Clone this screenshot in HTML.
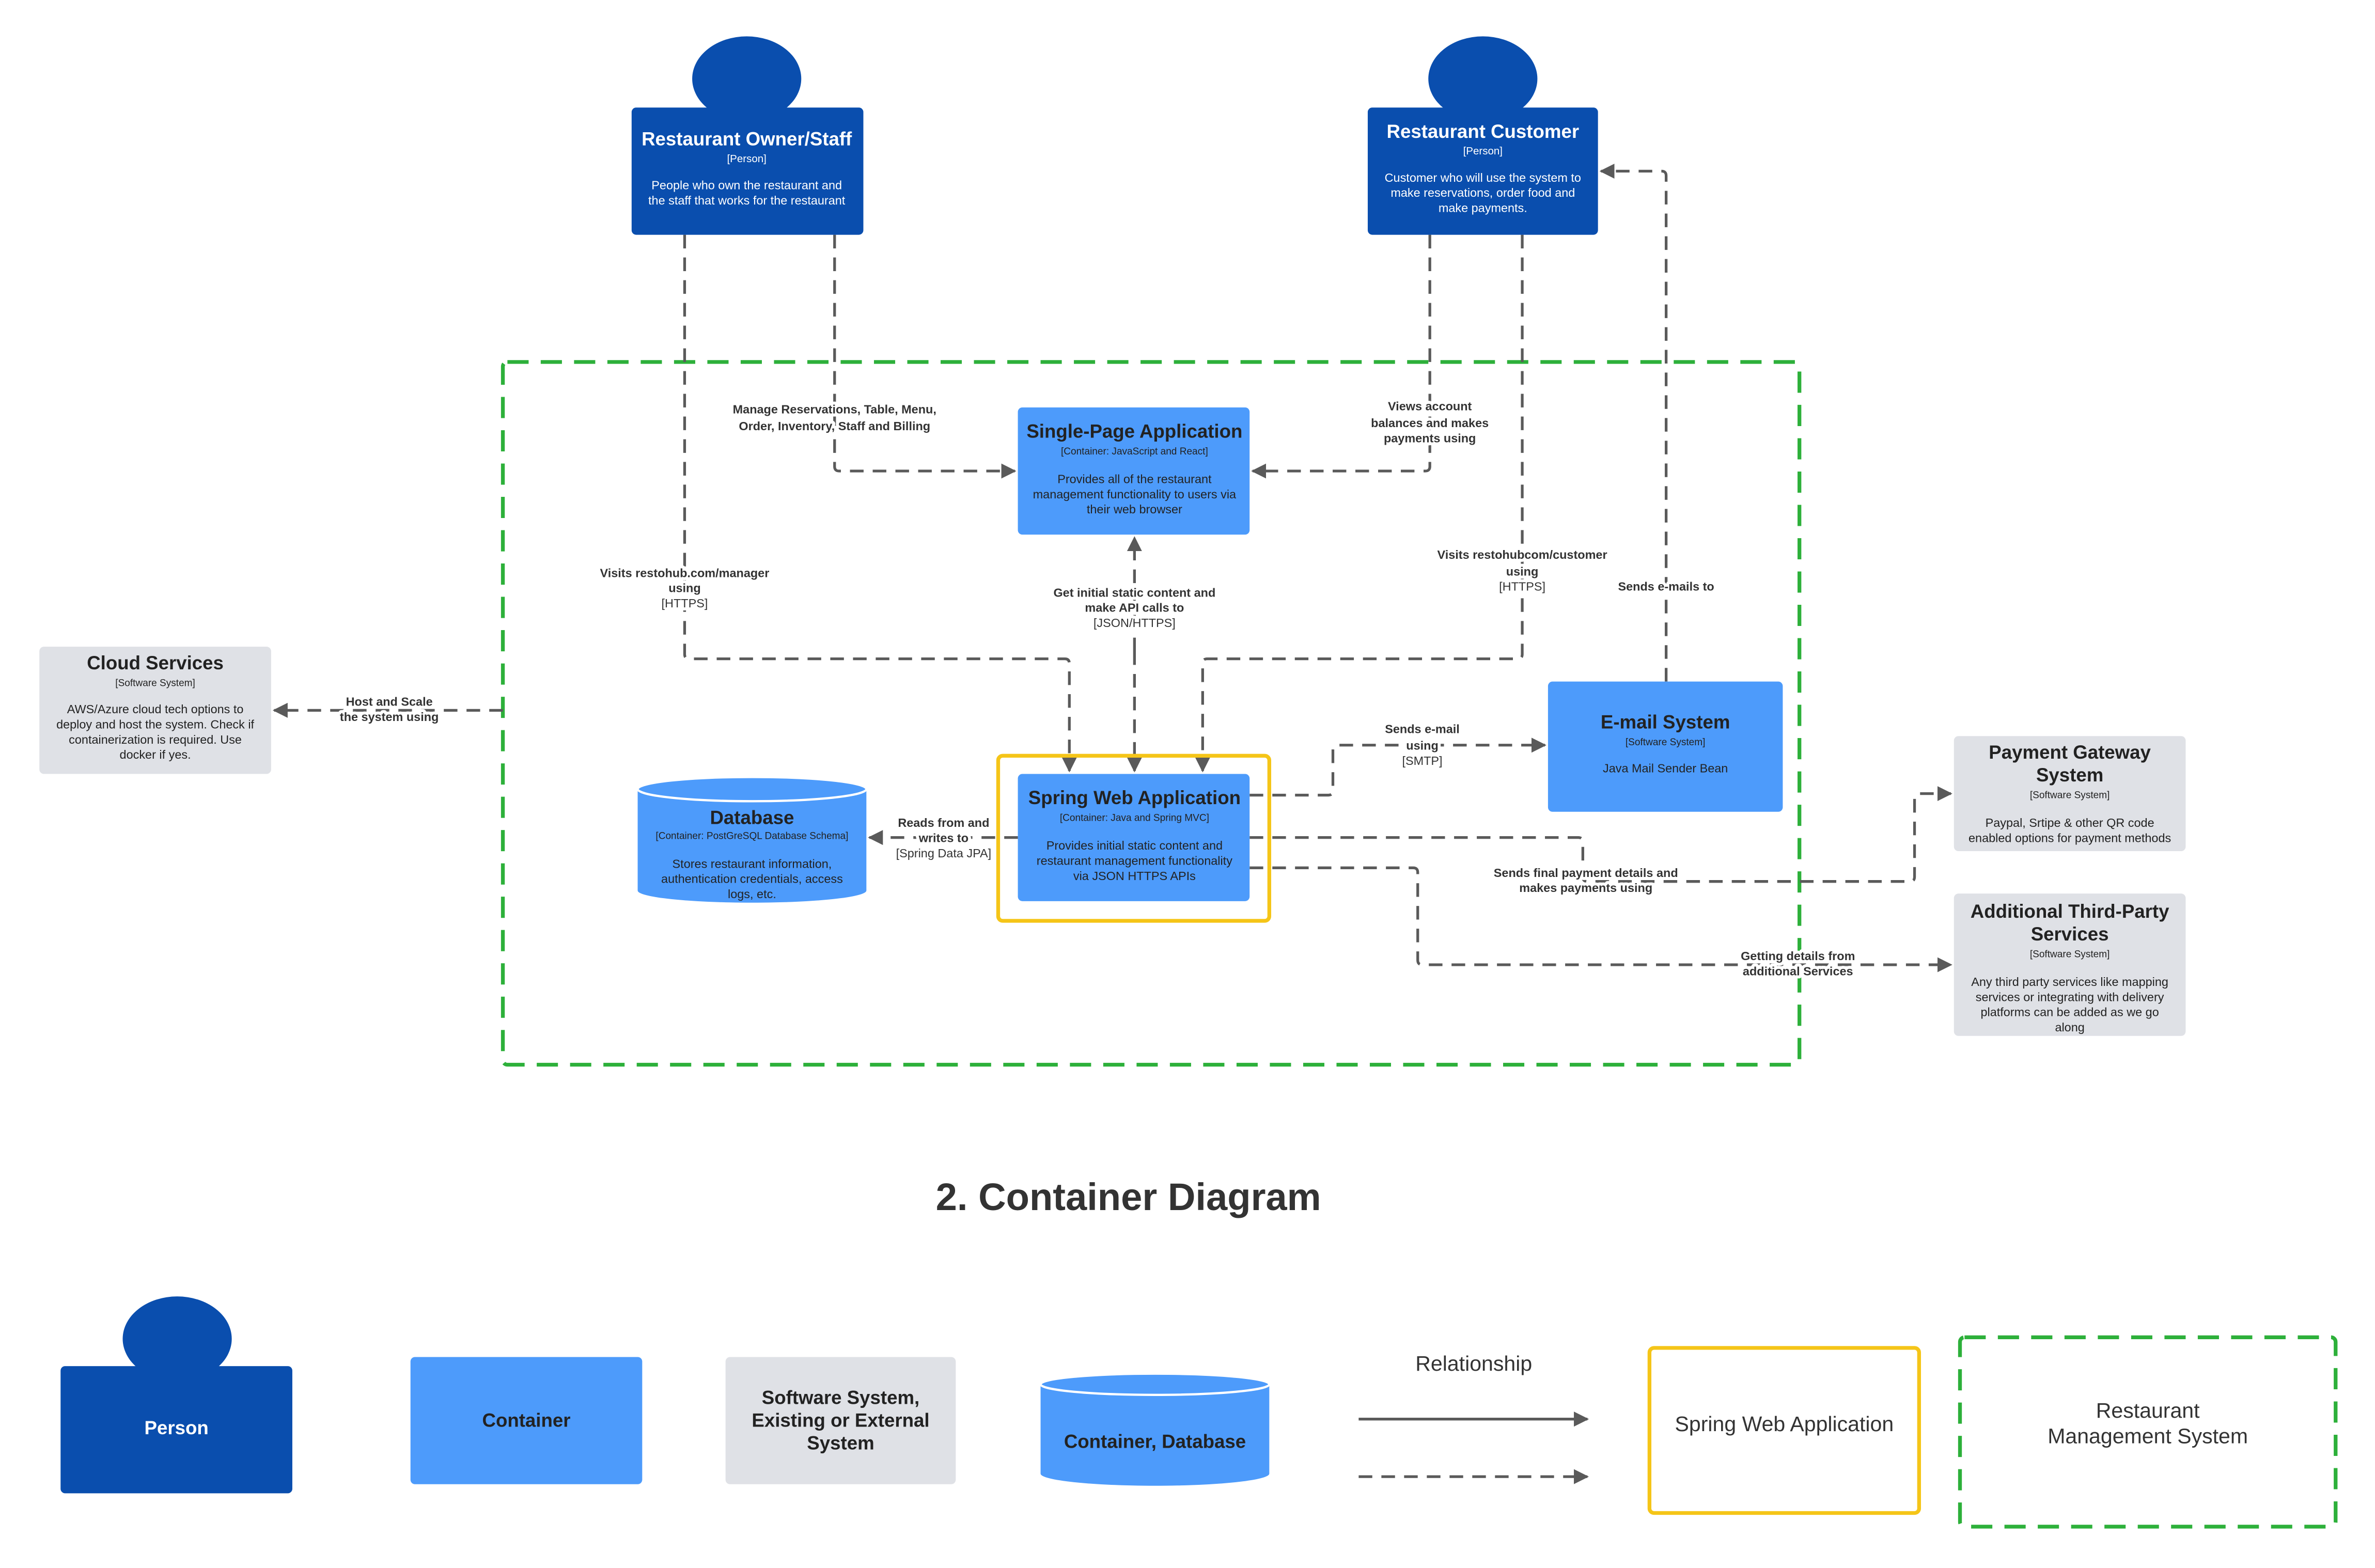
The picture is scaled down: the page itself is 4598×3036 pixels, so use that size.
<!DOCTYPE html>
<html><head><meta charset="utf-8"><style>
html,body{margin:0;padding:0;background:#fff;}
svg{display:block;}
text{font-family:"Liberation Sans",sans-serif;}
.lbl{font-size:8px;font-weight:bold;fill:#333;text-anchor:middle;paint-order:stroke;stroke:#fff;stroke-width:4px;stroke-linejoin:round;}
.lbn{font-weight:normal;}
.c{fill:none;stroke:#5a5a5a;stroke-width:1.8;stroke-dasharray:9 6;}
.w{fill:#fff;text-anchor:middle;}
.d{fill:#222;text-anchor:middle;}
</style></head><body>
<svg width="4598" height="3036" viewBox="0 0 1568 1035.3" xmlns="http://www.w3.org/2000/svg">
<defs>
<marker id="a" viewBox="0 0 10 10" refX="9" refY="5" markerWidth="5.5" markerHeight="5.5" orient="auto"><path d="M0,0L10,5L0,10z" fill="#5a5a5a"/></marker>
</defs>
<rect width="1568" height="1036" fill="#fff"/>

<rect x="332" y="239" width="856" height="464" rx="3" fill="none" stroke="#2db03a" stroke-width="2.5" stroke-dasharray="14 8"/>

<path class="c" d="M452,155V432q0,3 3,3H703q3,0 3,3V509" marker-end="url(#a)"/>
<path class="c" d="M551,155V308q0,3 3,3H670" marker-end="url(#a)"/>
<path class="c" d="M944,155V308q0,3 -3,3H827" marker-end="url(#a)"/>
<path class="c" d="M1005,155V432q0,3 -3,3H797q-3,0 -3,3V509" marker-end="url(#a)"/>
<path class="c" d="M1100,450V116q0,-3 -3,-3H1057" marker-end="url(#a)"/>
<path class="c" d="M749,430V355" marker-end="url(#a)"/>
<path class="c" d="M749,430V509" marker-end="url(#a)"/>
<path class="c" d="M672,553H574" marker-end="url(#a)"/>
<path class="c" d="M332,469H181" marker-end="url(#a)"/>
<path class="c" d="M825,525H877q3,0 3,-3V495q0,-3 3,-3H1020" marker-end="url(#a)"/>
<path class="c" d="M825,553H1042q3,0 3,3V579q0,3 3,3H1261q3,0 3,-3V527q0,-3 3,-3H1288" marker-end="url(#a)"/>
<path class="c" d="M825,573H933q3,0 3,3V634q0,3 3,3H1288" marker-end="url(#a)"/>

<ellipse cx="493" cy="52" rx="36" ry="28" fill="#0a4eae"/>
<rect x="417" y="71" width="153" height="84" rx="3" fill="#0a4eae"/>
<text class="w" x="493" y="96" font-size="12.5" font-weight="bold">Restaurant Owner/Staff</text>
<text class="w" x="493" y="107" font-size="7">[Person]</text>
<text class="w" x="493" y="125" font-size="8">People who own the restaurant and</text>
<text class="w" x="493" y="135" font-size="8">the staff that works for the restaurant</text>

<ellipse cx="979" cy="52" rx="36" ry="28" fill="#0a4eae"/>
<rect x="903" y="71" width="152" height="84" rx="3" fill="#0a4eae"/>
<text class="w" x="979" y="91" font-size="12.5" font-weight="bold">Restaurant Customer</text>
<text class="w" x="979" y="102" font-size="7">[Person]</text>
<text class="w" x="979" y="120" font-size="8">Customer who will use the system to</text>
<text class="w" x="979" y="130" font-size="8">make reservations, order food and</text>
<text class="w" x="979" y="140" font-size="8">make payments.</text>

<rect x="672" y="269" width="153" height="84" rx="3" fill="#4d9bfb"/>
<text class="d" x="749" y="289" font-size="12.5" font-weight="bold">Single-Page Application</text>
<text class="d" x="749" y="300" font-size="6.5">[Container: JavaScript and React]</text>
<text class="d" x="749" y="319" font-size="8">Provides all of the restaurant</text>
<text class="d" x="749" y="329" font-size="8">management functionality to users via</text>
<text class="d" x="749" y="339" font-size="8">their web browser</text>

<rect x="659" y="499" width="179" height="109" rx="3" fill="none" stroke="#f5c518" stroke-width="2.5"/>
<rect x="672" y="511" width="153" height="84" rx="3" fill="#4d9bfb"/>
<text class="d" x="749" y="531" font-size="12.5" font-weight="bold">Spring Web Application</text>
<text class="d" x="749" y="542" font-size="6.5">[Container: Java and Spring MVC]</text>
<text class="d" x="749" y="561" font-size="8">Provides initial static content and</text>
<text class="d" x="749" y="571" font-size="8">restaurant management functionality</text>
<text class="d" x="749" y="581" font-size="8">via JSON HTTPS APIs</text>

<path d="M421,521V588a75.5,8 0 0 0 151,0V521z" fill="#4d9bfb"/>
<ellipse cx="496.5" cy="521" rx="75.5" ry="8" fill="#4d9bfb" stroke="#fff" stroke-width="1.5"/>
<text class="d" x="496.5" y="544" font-size="12.5" font-weight="bold">Database</text>
<text class="d" x="496.5" y="554" font-size="6.5">[Container: PostGreSQL Database Schema]</text>
<text class="d" x="496.5" y="573" font-size="8">Stores restaurant information,</text>
<text class="d" x="496.5" y="583" font-size="8">authentication credentials, access</text>
<text class="d" x="496.5" y="593" font-size="8">logs, etc.</text>

<rect x="1022" y="450" width="155" height="86" rx="3" fill="#4d9bfb"/>
<text class="d" x="1099.5" y="481" font-size="12.5" font-weight="bold">E-mail System</text>
<text class="d" x="1099.5" y="492" font-size="6.5">[Software System]</text>
<text class="d" x="1099.5" y="510" font-size="8">Java Mail Sender Bean</text>

<rect x="26" y="427" width="153" height="84" rx="3" fill="#dfe1e6"/>
<text class="d" x="102.5" y="442" font-size="12.5" font-weight="bold">Cloud Services</text>
<text class="d" x="102.5" y="453" font-size="6.5">[Software System]</text>
<text class="d" x="102.5" y="471" font-size="8">AWS/Azure cloud tech options to</text>
<text class="d" x="102.5" y="481" font-size="8">deploy and host the system. Check if</text>
<text class="d" x="102.5" y="491" font-size="8">containerization is required. Use</text>
<text class="d" x="102.5" y="501" font-size="8">docker if yes.</text>

<rect x="1290" y="486" width="153" height="76" rx="3" fill="#dfe1e6"/>
<text class="d" x="1366.5" y="501" font-size="12.5" font-weight="bold">Payment Gateway</text>
<text class="d" x="1366.5" y="516" font-size="12.5" font-weight="bold">System</text>
<text class="d" x="1366.5" y="527" font-size="6.5">[Software System]</text>
<text class="d" x="1366.5" y="546" font-size="8">Paypal, Srtipe &amp; other QR code</text>
<text class="d" x="1366.5" y="556" font-size="8">enabled options for payment methods</text>

<rect x="1290" y="590" width="153" height="94" rx="3" fill="#dfe1e6"/>
<text class="d" x="1366.5" y="606" font-size="12.5" font-weight="bold">Additional Third-Party</text>
<text class="d" x="1366.5" y="621" font-size="12.5" font-weight="bold">Services</text>
<text class="d" x="1366.5" y="632" font-size="6.5">[Software System]</text>
<text class="d" x="1366.5" y="651" font-size="8">Any third party services like mapping</text>
<text class="d" x="1366.5" y="661" font-size="8">services or integrating with delivery</text>
<text class="d" x="1366.5" y="671" font-size="8">platforms can be added as we go</text>
<text class="d" x="1366.5" y="681" font-size="8">along</text>

<text class="lbl" x="551" y="273">Manage Reservations, Table, Menu,</text>
<text class="lbl" x="551" y="284">Order, Inventory, Staff and Billing</text>
<text class="lbl" x="944" y="271">Views account</text>
<text class="lbl" x="944" y="282">balances and makes</text>
<text class="lbl" x="944" y="292">payments using</text>
<text class="lbl" x="452" y="381">Visits restohub.com/manager</text>
<text class="lbl" x="452" y="391">using</text>
<text class="lbl lbn" x="452" y="401">[HTTPS]</text>
<text class="lbl" x="1005" y="369">Visits restohubcom/customer</text>
<text class="lbl" x="1005" y="380">using</text>
<text class="lbl lbn" x="1005" y="390">[HTTPS]</text>
<text class="lbl" x="1100" y="390">Sends e-mails to</text>
<text class="lbl" x="749" y="394">Get initial static content and</text>
<text class="lbl" x="749" y="404">make API calls to</text>
<text class="lbl lbn" x="749" y="414">[JSON/HTTPS]</text>
<text class="lbl" x="623" y="546">Reads from and</text>
<text class="lbl" x="623" y="556">writes to</text>
<text class="lbl lbn" x="623" y="566">[Spring Data JPA]</text>
<text class="lbl" x="257" y="466">Host and Scale</text>
<text class="lbl" x="257" y="476">the system using</text>
<text class="lbl" x="939" y="484">Sends e-mail</text>
<text class="lbl" x="939" y="495">using</text>
<text class="lbl lbn" x="939" y="505">[SMTP]</text>
<text class="lbl" x="1047" y="579">Sends final payment details and</text>
<text class="lbl" x="1047" y="589">makes payments using</text>
<text class="lbl" x="1187" y="634">Getting details from</text>
<text class="lbl" x="1187" y="644">additional Services</text>

<text x="745" y="799" font-size="25.3" font-weight="bold" fill="#333" text-anchor="middle">2. Container Diagram</text>

<ellipse cx="117" cy="884" rx="36" ry="28" fill="#0a4eae"/>
<rect x="40" y="902" width="153" height="84" rx="3" fill="#0a4eae"/>
<text class="w" x="116.5" y="947" font-size="12.5" font-weight="bold">Person</text>
<rect x="271" y="896" width="153" height="84" rx="3" fill="#4d9bfb"/>
<text class="d" x="347.5" y="942" font-size="12.5" font-weight="bold">Container</text>
<rect x="479" y="896" width="152" height="84" rx="3" fill="#dfe1e6"/>
<text class="d" x="555" y="927" font-size="12.5" font-weight="bold">Software System,</text>
<text class="d" x="555" y="942" font-size="12.5" font-weight="bold">Existing or External</text>
<text class="d" x="555" y="957" font-size="12.5" font-weight="bold">System</text>
<path d="M687,914V973a75.5,8 0 0 0 151,0V914z" fill="#4d9bfb"/>
<ellipse cx="762.5" cy="914" rx="75.5" ry="7" fill="#4d9bfb" stroke="#fff" stroke-width="1.5"/>
<text class="d" x="762.5" y="956" font-size="12.5" font-weight="bold">Container, Database</text>
<text x="973" y="905" font-size="14" fill="#333" text-anchor="middle">Relationship</text>
<path d="M897,937H1048" stroke="#5a5a5a" stroke-width="1.8" marker-end="url(#a)"/>
<path class="c" d="M897,975H1048" marker-end="url(#a)"/>
<rect x="1089" y="890" width="178" height="109" rx="3" fill="none" stroke="#f5c518" stroke-width="2.5"/>
<text x="1178" y="945" font-size="14" fill="#333" text-anchor="middle">Spring Web Application</text>
<rect x="1294" y="883" width="248" height="125" rx="3" fill="none" stroke="#2db03a" stroke-width="2.5" stroke-dasharray="14 8"/>
<text x="1418" y="936" font-size="14" fill="#333" text-anchor="middle">Restaurant</text>
<text x="1418" y="953" font-size="14" fill="#333" text-anchor="middle">Management System</text>
</svg>
</body></html>
